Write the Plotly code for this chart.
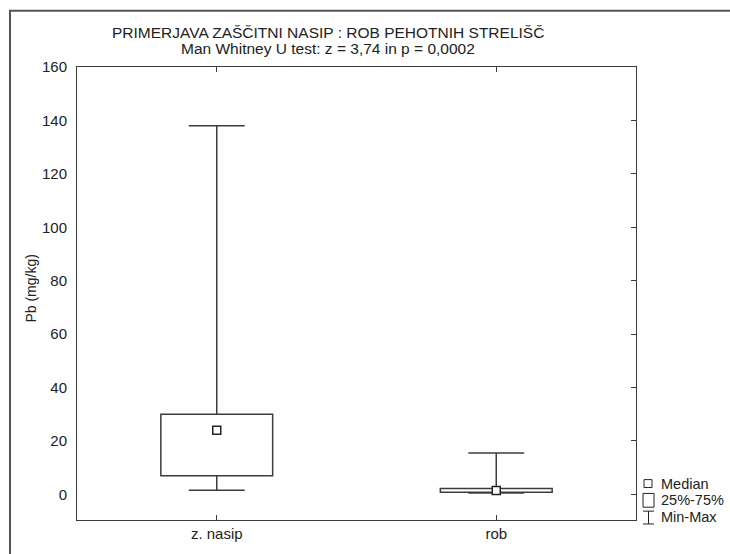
import plotly.graph_objects as go

categories = ["z. nasip", "rob"]
q1_vals = [7.0, 0.75]
median_vals = [24.0, 1.4]
q3_vals = [30.0, 2.2]
min_vals = [1.5, 0.5]
max_vals = [138.0, 15.5]
y_ticks = [0, 20, 40, 60, 80, 100, 120, 140, 160]

title1 = "PRIMERJAVA ZAŠČITNI NASIP : ROB PEHOTNIH STRELIŠČ"
title2 = "Man Whitney U test: z = 3,74 in p = 0,0002"
y_title = "Pb (mg/kg)"
legend_labels = ["Median", "25%-75%", "Min-Max"]

FONT = "Liberation Sans, Arial, sans-serif"
LINE = "#3c3c3c"
BOX_W = 0.4
CAP_HALF = 0.1

W, H = 730, 554
PL, PR, PT, PB = 77, 636, 67, 527   # plot area in pixels


def px(x):
    return (x - PL) / (PR - PL)


def py(y):
    return (PB - y) / (PB - PT)


positions = list(range(len(categories)))

fig = go.Figure()

# Boxes (25%-75%)
fig.add_trace(go.Bar(
    x=positions,
    y=[q3 - q1 for q1, q3 in zip(q1_vals, q3_vals)],
    base=q1_vals,
    width=BOX_W,
    marker=dict(color="white", line=dict(color=LINE, width=1.5)),
    hoverinfo="skip",
    showlegend=False,
))

# Whiskers (Min-Max) with caps
wx, wy = [], []
for p, q1, q3, lo, hi in zip(positions, q1_vals, q3_vals, min_vals, max_vals):
    wx += [p, p, None, p - CAP_HALF, p + CAP_HALF, None,
           p, p, None, p - CAP_HALF, p + CAP_HALF, None]
    wy += [q3, hi, None, hi, hi, None,
           q1, lo, None, lo, lo, None]
fig.add_trace(go.Scatter(
    x=wx, y=wy, mode="lines",
    line=dict(color=LINE, width=1.5),
    hoverinfo="skip", showlegend=False,
))

# Medians
fig.add_trace(go.Scatter(
    x=positions,
    y=median_vals,
    mode="markers",
    marker=dict(symbol="square", size=8, color="white",
                line=dict(color="#222222", width=1.5)),
    showlegend=False,
    hoverinfo="skip",
))

# invisible trace to activate right axis
fig.add_trace(go.Scatter(x=positions, y=median_vals, yaxis="y2",
                         mode="markers", marker=dict(opacity=0),
                         showlegend=False, hoverinfo="skip"))

yrange = [-9.6, 160]

fig.update_layout(
    width=W, height=H,
    margin=dict(l=PL, r=W - PR, t=PT, b=H - PB),
    paper_bgcolor="white", plot_bgcolor="white",
    font=dict(family=FONT, size=15, color="#222222"),
    bargap=0,
    xaxis=dict(
        range=[-0.5, 1.5], tickvals=positions, ticktext=categories,
        showline=True, linecolor=LINE, linewidth=1,
        mirror="ticks", ticks="inside", ticklen=5, tickcolor=LINE,
        showgrid=False, zeroline=False, tickfont=dict(size=15),
    ),
    yaxis=dict(
        range=yrange, tickvals=y_ticks, showline=True, linecolor=LINE,
        linewidth=1, mirror=True, ticks="", showgrid=False, zeroline=False,
        tickfont=dict(size=15), ticklabelstandoff=6,
    ),
    yaxis2=dict(
        range=yrange, tickvals=y_ticks, overlaying="y", side="right",
        showticklabels=False, ticks="inside", ticklen=5, tickcolor=LINE,
        showgrid=False, zeroline=False, showline=False,
    ),
)

# Titles
fig.add_annotation(text=title1, xref="paper", yref="paper",
                   x=px(328), y=py(32),
                   showarrow=False, xanchor="center", yanchor="middle",
                   font=dict(size=15.5))
fig.add_annotation(text=title2, xref="paper", yref="paper",
                   x=px(328), y=py(48),
                   showarrow=False, xanchor="center", yanchor="middle",
                   font=dict(size=15.5))
fig.add_annotation(text=y_title, xref="paper", yref="paper",
                   x=px(31), y=py(292), textangle=-90,
                   showarrow=False, xanchor="center", yanchor="middle",
                   font=dict(size=14))

# Outer frame (top and left lines)
fig.add_shape(type="path", xref="paper", yref="paper",
              path=f"M {px(10)} {py(570)} L {px(10)} {py(10)} L {px(750)} {py(10)}",
              line=dict(color="#555555", width=2))

# Legend icons
fig.add_shape(type="rect", xref="paper", yref="paper",
              x0=px(644), x1=px(652), y0=py(494), y1=py(486),
              line=dict(color="#222222", width=1), fillcolor="white")
fig.add_shape(type="rect", xref="paper", yref="paper",
              x0=px(643), x1=px(654), y0=py(514), y1=py(500),
              line=dict(color="#222222", width=1), fillcolor="white")
fig.add_shape(type="path", xref="paper", yref="paper",
              path=(f"M {px(643)} {py(518)} L {px(654)} {py(518)} "
                    f"M {px(648.5)} {py(518)} L {px(648.5)} {py(531)} "
                    f"M {px(643)} {py(531)} L {px(654)} {py(531)}"),
              line=dict(color="#222222", width=1))
for lbl, yy in zip(legend_labels, [490, 507, 524]):
    fig.add_annotation(text=lbl, xref="paper", yref="paper",
                       x=px(659), y=py(yy), showarrow=False,
                       xanchor="left", yanchor="middle", font=dict(size=14.5))

fig.write_html(
    "out.html",
    config={"displayModeBar": False, "staticPlot": True},
    post_script="document.body.style.margin='0';document.body.style.overflow='hidden';",
)
